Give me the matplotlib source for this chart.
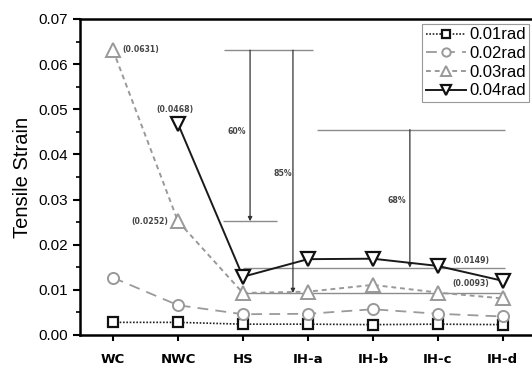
import numpy as np
import matplotlib
matplotlib.use("Agg")
import matplotlib.pyplot as plt
from matplotlib.ticker import MultipleLocator, FormatStrFormatter

# categories and tensile strain per drift level
casos = ["WC", "NWC", "HS", "IH-a", "IH-b", "IH-c", "IH-d"]
rad_001 = [0.0028, 0.0028, 0.0024, 0.0024, 0.0023, 0.0024, 0.0023]
rad_002 = [0.0127, 0.0066, 0.0046, 0.0047, 0.0057, 0.0047, 0.0041]
rad_003 = [0.0631, 0.0252, 0.0093, 0.0096, 0.0111, 0.0094, 0.0081]
rad_004 = [np.nan, 0.0468, 0.0129, 0.0168, 0.0169, 0.0153, 0.0120]

# reference levels for the reduction arrows
nivel_wc = 0.0631
nivel_nwc_03 = 0.0252
nivel_nwc_04 = 0.0455
media_04 = 0.0149
media_03 = 0.0093

plt.rcParams["font.family"] = ["Liberation Sans", "DejaVu Sans"]

fig = plt.figure(figsize=(5.32, 3.70), dpi=100)
ax = fig.add_axes([80 / 532, 1 - 335 / 370, 1 - 80 / 532, (335 - 19) / 370])

x = np.arange(len(casos))

ax.plot(x, rad_001, color="#222222", linestyle=(0, (1, 1)), linewidth=1.2,
        marker="s", markersize=7, markerfacecolor="white", markeredgecolor="#111111",
        markeredgewidth=1.6, label="0.01rad", zorder=4)
ax.plot(x, rad_002, color="#9a9a9a", linestyle=(0, (6, 4)), linewidth=1.3,
        marker="o", markersize=8, markerfacecolor="white", markeredgecolor="#999999",
        markeredgewidth=1.4, label="0.02rad", zorder=4)
ax.plot(x, rad_003, color="#999999", linestyle=(0, (2.5, 2)), linewidth=1.4,
        marker="^", markersize=9.5, markerfacecolor="white", markeredgecolor="#999999",
        markeredgewidth=1.4, label="0.03rad", zorder=4)
ax.plot(x, rad_004, color="#1a1a1a", linestyle="-", linewidth=1.4,
        marker="v", markersize=9.5, markerfacecolor="white", markeredgecolor="#111111",
        markeredgewidth=1.6, label="0.04rad", zorder=5)

# horizontal reference lines
cinza = "#8c8c8c"
ax.hlines(nivel_wc, 1.71, 3.08, color=cinza, linewidth=1.0, zorder=2)
ax.hlines(nivel_nwc_03, 1.69, 2.52, color=cinza, linewidth=1.0, zorder=2)
ax.hlines(nivel_nwc_04, 3.14, 6.03, color=cinza, linewidth=1.0, zorder=2)
ax.hlines(media_04, 2.0, 6.03, color=cinza, linewidth=1.0, zorder=2)
ax.hlines(media_03, 2.0, 6.03, color=cinza, linewidth=1.0, zorder=2)

# reduction arrows
seta = dict(arrowstyle="-|>", color="#333333", lw=0.9, mutation_scale=6,
            shrinkA=0, shrinkB=0)
ax.annotate("", xy=(2.11, nivel_nwc_03), xytext=(2.11, nivel_wc), arrowprops=seta, zorder=3)
ax.annotate("", xy=(2.77, media_03), xytext=(2.77, nivel_wc), arrowprops=seta, zorder=3)
ax.annotate("", xy=(4.57, media_04), xytext=(4.57, nivel_nwc_04), arrowprops=seta, zorder=3)

rot = dict(fontsize=5.6, fontweight="bold", color="#444444", family="DejaVu Sans")
ax.text(1.91, 0.0450, "60%", ha="center", va="center", **rot)
ax.text(2.62, 0.0357, "85%", ha="center", va="center", **rot)
ax.text(4.37, 0.0299, "68%", ha="center", va="center", **rot)

ax.text(0.15, 0.0633, f"({rad_003[0]:.4f})", ha="left", va="center", **rot)
ax.text(0.95, 0.0499, f"({rad_004[1]:.4f})", ha="center", va="center", **rot)
ax.text(0.85, 0.0251, f"({rad_003[1]:.4f})", ha="right", va="center", **rot)
ax.text(5.51, 0.0166, f"({media_04:.4f})", ha="center", va="center", **rot)
ax.text(5.51, 0.0113, f"({media_03:.4f})", ha="center", va="center", **rot)

ax.set_xlim(-0.508, 6.45)
ax.set_ylim(0, 0.07)
ax.yaxis.set_major_locator(MultipleLocator(0.01))
ax.yaxis.set_minor_locator(MultipleLocator(0.005))
ax.yaxis.set_major_formatter(FormatStrFormatter("%.2f"))
ax.set_xticks(x)
ax.set_xticklabels(casos, fontsize=9.5, fontweight="bold", family="DejaVu Sans")
ax.tick_params(axis="y", which="major", direction="out", length=5, width=1.5, labelsize=11)
ax.tick_params(axis="y", which="minor", direction="out", length=3, width=1.2)
ax.tick_params(axis="x", direction="out", length=4, width=1.5, pad=9)

for lado in ["left", "bottom", "top"]:
    ax.spines[lado].set_linewidth(1.8)
ax.spines["right"].set_visible(False)

ax.set_ylabel("Tensile Strain", fontsize=14.5, labelpad=5)

leg = ax.legend(loc="upper right", bbox_to_anchor=(529 / 532, 1 - 24 / 370),
                bbox_transform=fig.transFigure, borderaxespad=0, fontsize=12,
                handlelength=2.4, handletextpad=0.2, labelspacing=0.22,
                borderpad=0.2, markerscale=0.75, fancybox=False, framealpha=1)
leg.get_frame().set_edgecolor("#999999")
leg.get_frame().set_linewidth(0.8)

fig.savefig("out.png", dpi=100)
